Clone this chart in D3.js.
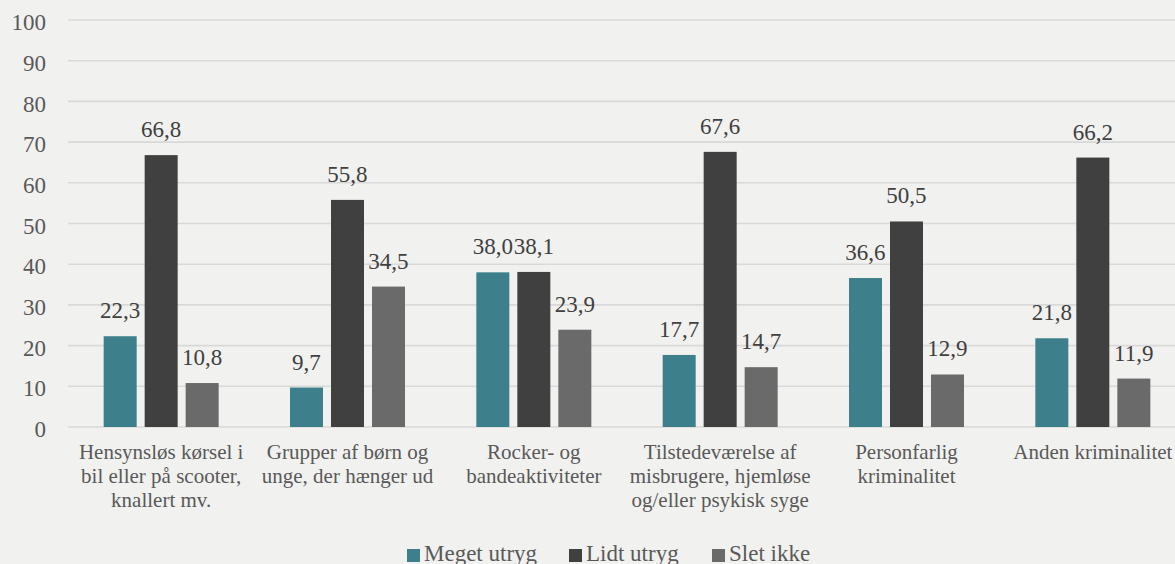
<!DOCTYPE html>
<html>
<head>
<meta charset="utf-8">
<script src="https://cdn.jsdelivr.net/npm/d3@7"></script>
<style>
  html, body { margin: 0; padding: 0; background: #f1f1ef; overflow: hidden; }
  svg { display: block; }
  svg text { font-family: "Liberation Serif", "Times New Roman", serif; }
</style>
</head>
<body>
<svg width="1175" height="564"></svg>
<script>
// data
const categories = [
    ["Hensynsløs kørsel i", "bil eller på scooter,", "knallert mv."],
    ["Grupper af børn og", "unge, der hænger ud"],
    ["Rocker- og", "bandeaktiviteter"],
    ["Tilstedeværelse af", "misbrugere, hjemløse", "og/eller psykisk syge"],
    ["Personfarlig", "kriminalitet"],
    ["Anden kriminalitet"]
];
const seriesNames = ["Meget utryg", "Lidt utryg", "Slet ikke"];
const meget = [22.3, 9.7, 38.0, 17.7, 36.6, 21.8];
const lidt = [66.8, 55.8, 38.1, 67.6, 50.5, 66.2];
const slet = [10.8, 34.5, 23.9, 14.7, 12.9, 11.9];
const yTicks = [0, 10, 20, 30, 40, 50, 60, 70, 80, 90, 100];
const colors = ["#3d7f8a", "#404040", "#6a6a6a"];

const svg = d3.select("svg");
const plotLeft = 68, plotRight = 1186, plotTop = 20, plotBottom = 427;

const x0 = d3.scaleBand()
    .domain(d3.range(categories.length))
    .range([plotLeft, plotRight]);

// 3 bars of 33px with 8px gaps, centred in each band
const x1 = d3.scaleBand()
    .domain(d3.range(seriesNames.length))
    .range([x0.bandwidth() / 2 - 57.5, x0.bandwidth() / 2 + 57.5])
    .paddingInner(8 / 41);

const y = d3.scaleLinear()
    .domain([0, 100])
    .range([plotBottom, plotTop]);

// gridlines
svg.append("g")
    .selectAll("line")
    .data(yTicks)
    .enter()
    .append("line")
    .attr("x1", plotLeft)
    .attr("x2", plotRight)
    .attr("y1", d => y(d))
    .attr("y2", d => y(d))
    .attr("stroke", "#d9d9d9")
    .attr("stroke-width", 1.6);

// y axis labels
const yAxis = svg.append("g")
    .attr("transform", `translate(${plotLeft}, 0)`)
    .call(d3.axisLeft(y).tickValues(yTicks).tickSize(0).tickPadding(22).tickFormat(d3.format("d")));
yAxis.attr("font-family", null).attr("font-size", null);
yAxis.select(".domain").remove();
yAxis.selectAll("text")
    .attr("dy", "0.42em")
    .style("font-size", "23px")
    .attr("fill", "#595959");

// bars
const series = [meget, lidt, slet];
const groups = svg.append("g")
    .selectAll("g")
    .data(categories.map((c, i) => ({ i: i, vals: series.map(s => s[i]) })))
    .enter()
    .append("g")
    .attr("transform", d => `translate(${x0(d.i)}, 0)`);

groups.selectAll("rect")
    .data(d => d.vals)
    .enter()
    .append("rect")
    .attr("x", (d, j) => x1(j))
    .attr("y", d => y(d))
    .attr("width", x1.bandwidth())
    .attr("height", d => y(0) - y(d))
    .attr("fill", (d, j) => colors[j]);

groups.selectAll("text")
    .data(d => d.vals)
    .enter()
    .append("text")
    .attr("x", (d, j) => x1(j) + x1.bandwidth() / 2)
    .attr("y", d => y(d) - 18)
    .attr("text-anchor", "middle")
    .style("font-size", "23px")
    .attr("fill", "#404040")
    .text(d => d3.format(".1f")(d).replace(".", ","));

// category labels
const catLabels = svg.append("g")
    .selectAll("text")
    .data(categories)
    .enter()
    .append("text")
    .attr("x", (d, i) => x0(i) + x0.bandwidth() / 2)
    .attr("y", 459)
    .attr("text-anchor", "middle")
    .style("font-size", "21px")
    .attr("fill", "#595959");

catLabels.selectAll("tspan")
    .data(d => d)
    .enter()
    .append("tspan")
    .attr("x", function() { return d3.select(this.parentNode).attr("x"); })
    .attr("dy", (d, k) => k === 0 ? 0 : 24)
    .text(d => d);

// legend
const legendX = [407, 569, 712];
const legend = svg.append("g")
    .selectAll("g")
    .data(seriesNames)
    .enter()
    .append("g")
    .attr("transform", (d, i) => `translate(${legendX[i]}, 549)`);

legend.append("rect")
    .attr("x", 0)
    .attr("y", 0)
    .attr("width", 13)
    .attr("height", 13)
    .attr("fill", (d, i) => colors[i]);

legend.append("text")
    .attr("x", 17)
    .attr("y", 12)
    .style("font-size", "23px")
    .attr("fill", "#595959")
    .text(d => d);
</script>
</body>
</html>
